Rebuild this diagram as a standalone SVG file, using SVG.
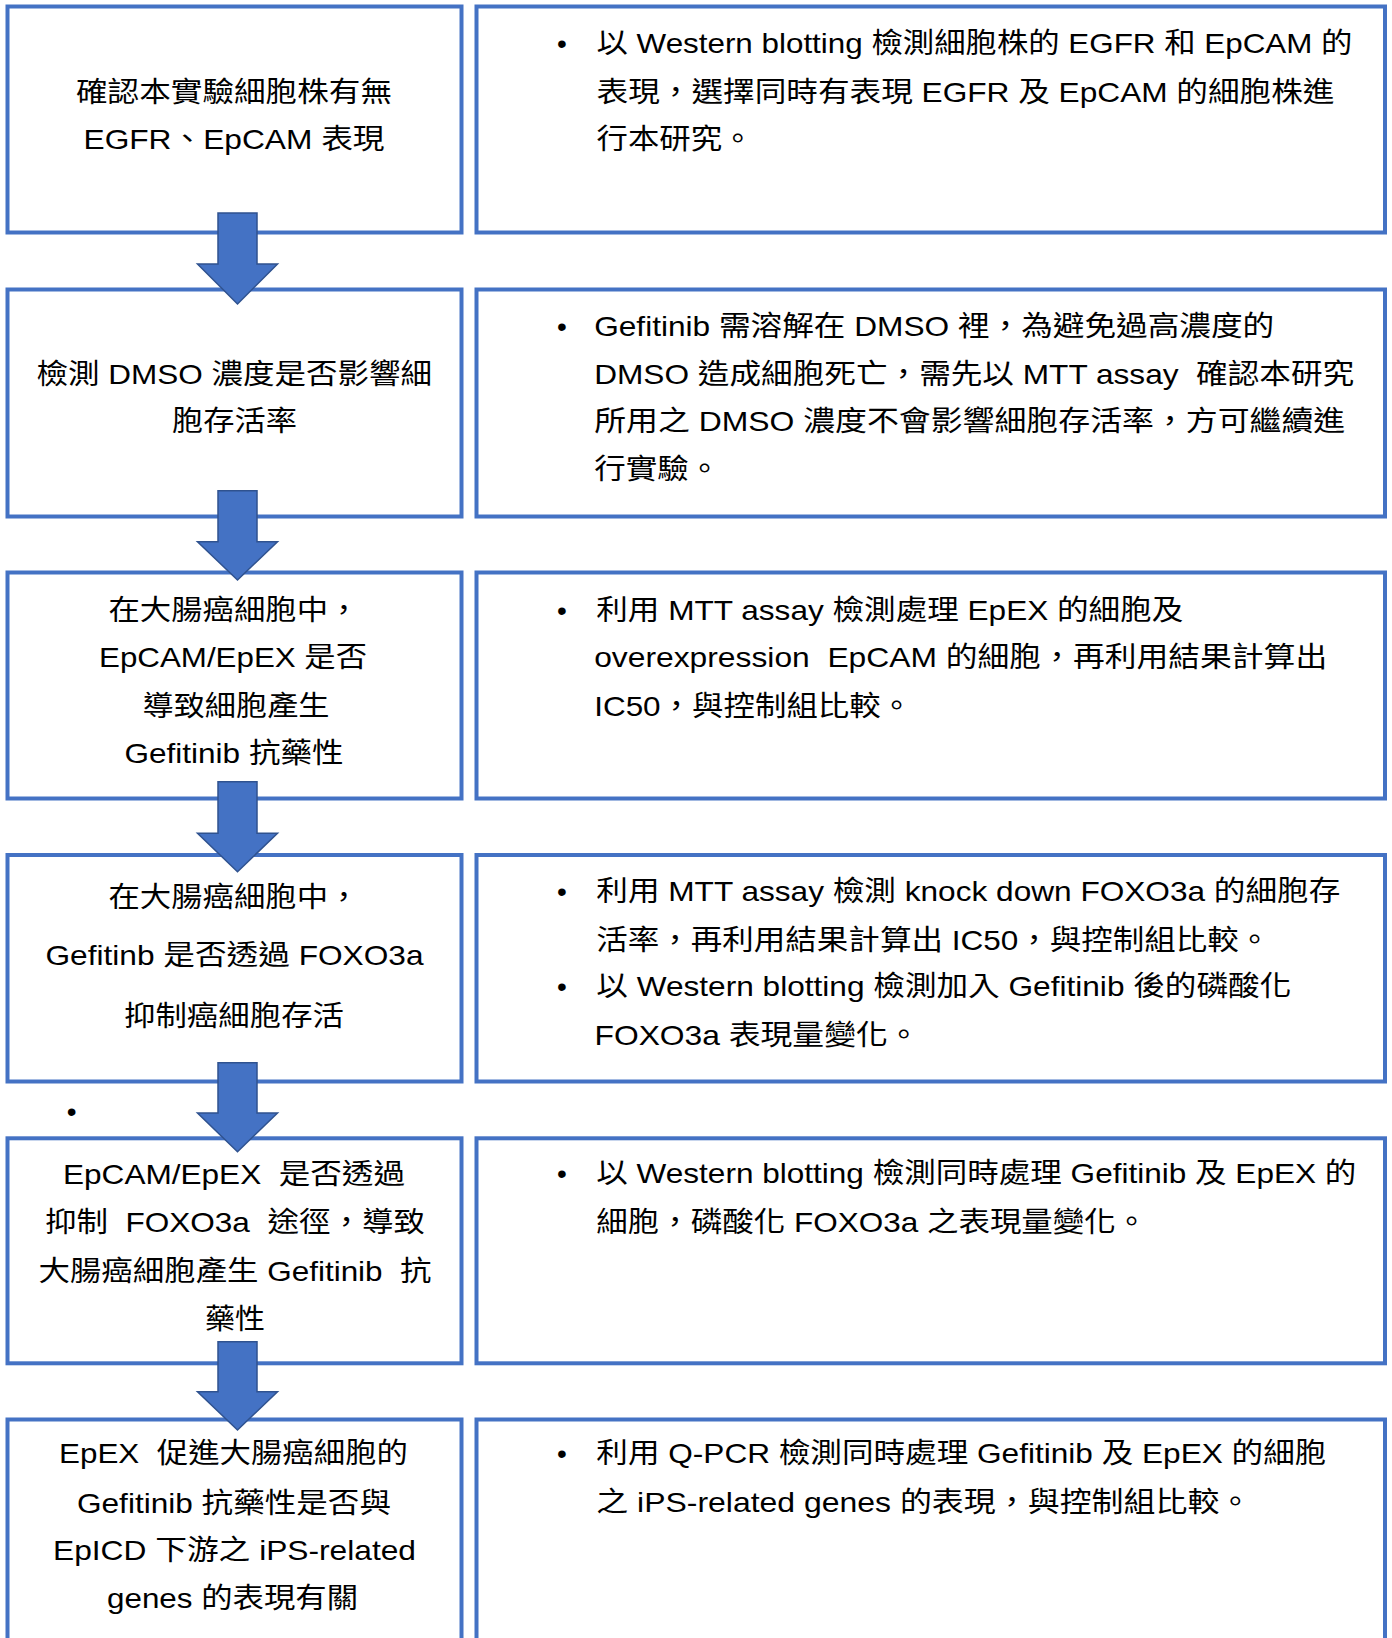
<svg xmlns="http://www.w3.org/2000/svg" width="1392" height="1638" viewBox="0 0 1392 1638">
<style>
.bg{fill:#ffffff}
.box{fill:#ffffff;stroke:#4472C4;stroke-width:4}
.t{font-family:'Liberation Sans','Noto Sans CJK TC',sans-serif;font-size:28px;fill:#000000;white-space:pre}
.arrow{fill:#4472C4;stroke:#2F528F;stroke-width:1.5;stroke-linejoin:miter}
</style>
<rect class="bg" x="0" y="0" width="1392" height="1638"/>

<g id="step1">
<rect class="box" x="7.5" y="6.5" width="454" height="226"/>
<text class="t" x="76" y="102" textLength="316" lengthAdjust="spacingAndGlyphs">確認本實驗細胞株有無</text>
<text class="t" x="83.5" y="148.5" textLength="301" lengthAdjust="spacingAndGlyphs">EGFR、EpCAM 表現</text>
</g>
<g id="method1">
<rect class="box" x="476.5" y="6.5" width="908.5" height="226"/>
<text class="t" x="557" y="52.5">•</text>
<text class="t" x="596.5" y="52.5" textLength="756" lengthAdjust="spacingAndGlyphs">以 Western blotting 檢測細胞株的 EGFR 和 EpCAM 的</text>
<text class="t" x="596.5" y="101.5" textLength="738" lengthAdjust="spacingAndGlyphs">表現，選擇同時有表現 EGFR 及 EpCAM 的細胞株進</text>
<text class="t" x="596.5" y="148.5" textLength="157" lengthAdjust="spacingAndGlyphs">行本研究。</text>
</g>

<g id="step2">
<rect class="box" x="7.5" y="289.5" width="454" height="227"/>
<text class="t" x="36.6" y="383.5" textLength="395.5" lengthAdjust="spacingAndGlyphs">檢測 DMSO 濃度是否影響細</text>
<text class="t" x="172" y="431" textLength="125" lengthAdjust="spacingAndGlyphs">胞存活率</text>
</g>
<g id="method2">
<rect class="box" x="476.5" y="289.5" width="908.5" height="227"/>
<text class="t" x="557" y="335.5">•</text>
<text class="t" x="594.2" y="335.5" textLength="680" lengthAdjust="spacingAndGlyphs">Gefitinib 需溶解在 DMSO 裡，為避免過高濃度的</text>
<text class="t" x="594.2" y="383.5" textLength="760" lengthAdjust="spacingAndGlyphs">DMSO 造成細胞死亡，需先以 MTT assay  確認本研究</text>
<text class="t" x="594.2" y="431" textLength="751" lengthAdjust="spacingAndGlyphs">所用之 DMSO 濃度不會影響細胞存活率，方可繼續進</text>
<text class="t" x="594.2" y="478.5" textLength="126" lengthAdjust="spacingAndGlyphs">行實驗。</text>
</g>

<g id="step3">
<rect class="box" x="7.5" y="572.5" width="454" height="226"/>
<text class="t" x="108.5" y="619.5" textLength="251" lengthAdjust="spacingAndGlyphs">在大腸癌細胞中，</text>
<text class="t" x="99" y="666.5" textLength="268" lengthAdjust="spacingAndGlyphs">EpCAM/EpEX 是否</text>
<text class="t" x="142.5" y="715.5" textLength="187" lengthAdjust="spacingAndGlyphs">導致細胞產生</text>
<text class="t" x="124.5" y="762.5" textLength="219" lengthAdjust="spacingAndGlyphs">Gefitinib 抗藥性</text>
</g>
<g id="method3">
<rect class="box" x="476.5" y="572.5" width="908.5" height="226"/>
<text class="t" x="557" y="619.5">•</text>
<text class="t" x="596.3" y="619.5" textLength="587" lengthAdjust="spacingAndGlyphs">利用 MTT assay 檢測處理 EpEX 的細胞及</text>
<text class="t" x="594.2" y="666.5" textLength="733" lengthAdjust="spacingAndGlyphs">overexpression  EpCAM 的細胞，再利用結果計算出</text>
<text class="t" x="594.2" y="715.5" textLength="318" lengthAdjust="spacingAndGlyphs">IC50，與控制組比較。</text>
</g>

<g id="step4">
<rect class="box" x="7.5" y="855" width="454" height="226.5"/>
<text class="t" x="108.5" y="907" textLength="251" lengthAdjust="spacingAndGlyphs">在大腸癌細胞中，</text>
<text class="t" x="45.5" y="965.3" textLength="378" lengthAdjust="spacingAndGlyphs">Gefitinb 是否透過 FOXO3a</text>
<text class="t" x="124" y="1025.5" textLength="220" lengthAdjust="spacingAndGlyphs">抑制癌細胞存活</text>
</g>
<g id="method4">
<rect class="box" x="476.5" y="855" width="908.5" height="226.5"/>
<text class="t" x="557" y="901">•</text>
<text class="t" x="596.3" y="901" textLength="744" lengthAdjust="spacingAndGlyphs">利用 MTT assay 檢測 knock down FOXO3a 的細胞存</text>
<text class="t" x="596.3" y="950" textLength="674" lengthAdjust="spacingAndGlyphs">活率，再利用結果計算出 IC50，與控制組比較。</text>
<text class="t" x="557" y="996">•</text>
<text class="t" x="596.3" y="996" textLength="695" lengthAdjust="spacingAndGlyphs">以 Western blotting 檢測加入 Gefitinib 後的磷酸化</text>
<text class="t" x="594.5" y="1045" textLength="325" lengthAdjust="spacingAndGlyphs">FOXO3a 表現量變化。</text>
</g>

<text id="stray-bullet" class="t" x="66.8" y="1121">•</text>

<g id="step5">
<rect class="box" x="7.5" y="1138.3" width="454" height="225"/>
<text class="t" x="63" y="1183.5" textLength="342" lengthAdjust="spacingAndGlyphs">EpCAM/EpEX  是否透過</text>
<text class="t" x="45" y="1232" textLength="380" lengthAdjust="spacingAndGlyphs">抑制  FOXO3a  途徑，導致</text>
<text class="t" x="38.5" y="1280.5" textLength="393" lengthAdjust="spacingAndGlyphs">大腸癌細胞產生 Gefitinib  抗</text>
<text class="t" x="205" y="1328.5" textLength="60" lengthAdjust="spacingAndGlyphs">藥性</text>
</g>
<g id="method5">
<rect class="box" x="476.5" y="1138.3" width="908.5" height="225"/>
<text class="t" x="557" y="1183">•</text>
<text class="t" x="596.3" y="1183" textLength="760" lengthAdjust="spacingAndGlyphs">以 Western blotting 檢測同時處理 Gefitinib 及 EpEX 的</text>
<text class="t" x="596.3" y="1231.5" textLength="551" lengthAdjust="spacingAndGlyphs">細胞，磷酸化 FOXO3a 之表現量變化。</text>
</g>

<g id="step6">
<rect class="box" x="7.5" y="1419.5" width="454" height="226"/>
<text class="t" x="59" y="1463" textLength="349" lengthAdjust="spacingAndGlyphs">EpEX  促進大腸癌細胞的</text>
<text class="t" x="77" y="1512.5" textLength="314" lengthAdjust="spacingAndGlyphs">Gefitinib 抗藥性是否與</text>
<text class="t" x="53" y="1559.5" textLength="363" lengthAdjust="spacingAndGlyphs">EpICD 下游之 iPS-related</text>
<text class="t" x="107" y="1607.5" textLength="251" lengthAdjust="spacingAndGlyphs">genes 的表現有關</text>
</g>
<g id="method6">
<rect class="box" x="476.5" y="1419.5" width="908.5" height="226"/>
<text class="t" x="557" y="1462.5">•</text>
<text class="t" x="596.3" y="1462.5" textLength="730" lengthAdjust="spacingAndGlyphs">利用 Q-PCR 檢測同時處理 Gefitinib 及 EpEX 的細胞</text>
<text class="t" x="596.3" y="1511.5" textLength="655" lengthAdjust="spacingAndGlyphs">之 iPS-related genes 的表現，與控制組比較。</text>
</g>

<g id="connectors">
<path class="arrow" d="M218,213 H257 V264 H277.5 L237.5,304 L197.5,264 H218 Z"/>
<path class="arrow" d="M218,490.7 H257 V541.7 H277.5 L237.5,580 L197.5,541.7 H218 Z"/>
<path class="arrow" d="M218,781.7 H257 V833.3 H277.5 L237.5,871.7 L197.5,833.3 H218 Z"/>
<path class="arrow" d="M218,1062.7 H257 V1113 H277.5 L237.5,1151.7 L197.5,1113 H218 Z"/>
<path class="arrow" d="M218,1341.7 H257 V1391.7 H277.5 L237.5,1430 L197.5,1391.7 H218 Z"/>
</g>
</svg>
